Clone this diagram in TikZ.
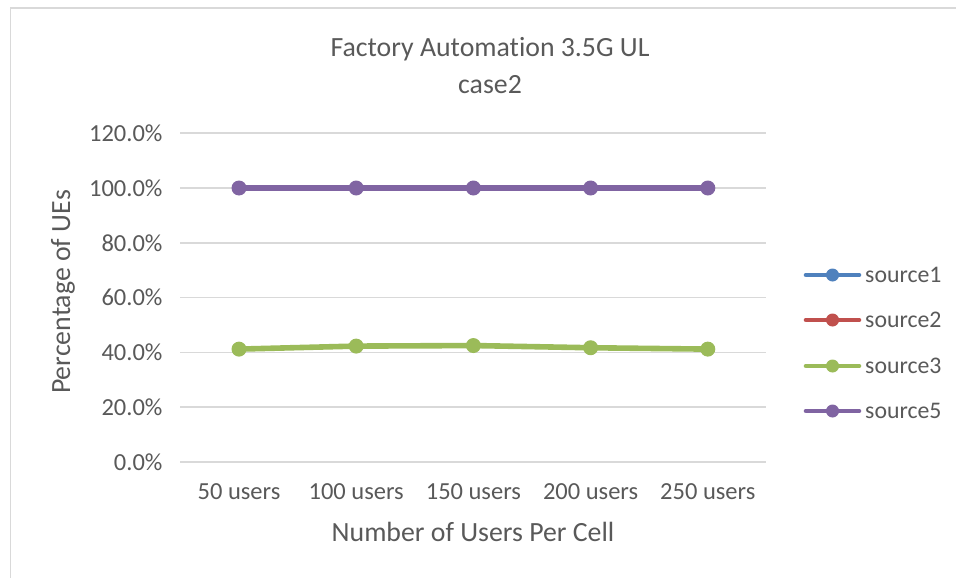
\documentclass[tikz,border=0pt]{standalone}
\usepackage{fontspec}
\setmainfont{Carlito}[Ligatures=NoCommon]
\definecolor{txt}{HTML}{595959}
\definecolor{gridc}{HTML}{D9D9D9}
\definecolor{sblue}{HTML}{4F81BD}
\definecolor{sred}{HTML}{C0504D}
\definecolor{sgreen}{HTML}{9BBB59}
\definecolor{spurple}{HTML}{8064A2}
\tikzset{
  frameline/.style={draw=gridc, line width=1.6pt},
  gridline/.style={draw=gridc, line width=1.5pt},
  ticklabel/.style={text=txt, font=\fontsize{24.5}{28}\selectfont},
  legtext/.style={text=txt, font=\fontsize{23.8}{28}\selectfont},
  axistitle/.style={text=txt, font=\fontsize{27.8}{32}\selectfont},
  serline/.style={line width=5.6pt, line cap=round, line join=round},
  marker/.style={circle, inner sep=0pt, minimum size=15pt},
  legline/.style={line width=4.6pt, line cap=round},
  legmark/.style={circle, inner sep=0pt, minimum size=13pt},
}
\begin{document}
\begin{tikzpicture}[x=1pt, y=-1pt]
\useasboundingbox (0,0) rectangle (956,578);
% chart frame
\draw[frameline] (10.5,578) -- (10.5,8) -- (956,8);
% title
\node[axistitle] (title1) at (490,49) {Factory Automation 3.5G UL};
\node[axistitle] (title2) at (490,85) {case2};
% horizontal gridlines and value labels
\foreach \v in {0,20,...,120} {
  \draw[gridline] (180,{462-2.74*\v}) -- (766,{462-2.74*\v});
  \node[ticklabel, anchor=east] (ylab\v) at (166,{462-2.74*\v}) {\v.0\%};
}
% category labels
\foreach \c [count=\i from 0] in {50,100,150,200,250} {
  \node[ticklabel] (xlab\c) at ({239+117.2*\i},492) {\c\ users};
}
% axis titles
\node[axistitle] (xtitle) at (473,532) {Number of Users Per Cell};
\node[axistitle, rotate=90] (ytitle) at (63,292) {Percentage of UEs};
% data points
\foreach \c [count=\i from 0] in {50,100,150,200,250} {
  \coordinate (a\c) at ({239+117.2*\i},{462-2.74*100});
}
\coordinate (g50)  at (239,{462-2.74*41.2});
\coordinate (g100) at (356.2,{462-2.74*42.3});
\coordinate (g150) at (473.4,{462-2.74*42.5});
\coordinate (g200) at (590.6,{462-2.74*41.7});
\coordinate (g250) at (707.8,{462-2.74*41.2});
% source3
\draw[serline, sgreen] (g50) -- (g100) -- (g150) -- (g200) -- (g250);
\foreach \c in {50,100,150,200,250} \node[marker, fill=sgreen] (m3-\c) at (g\c) {};
% source5 (source1 and source2 lie underneath it)
\draw[serline, spurple] (a50) -- (a100) -- (a150) -- (a200) -- (a250);
\foreach \c in {50,100,150,200,250} \node[marker, fill=spurple] (m5-\c) at (a\c) {};
% legend
\foreach \col/\name/\y in {sblue/source1/275, sred/source2/320, sgreen/source3/366, spurple/source5/411} {
  \coordinate (l\name a) at (806,\y);
  \coordinate (l\name b) at (859,\y);
  \draw[legline, \col] (l\name a) -- (l\name b);
  \node[legmark, fill=\col] (lm\name) at (832.5,\y) {};
  \node[legtext, anchor=west, inner sep=0pt] (lt\name) at (865,\y) {\name};
}
\end{tikzpicture}
\end{document}
